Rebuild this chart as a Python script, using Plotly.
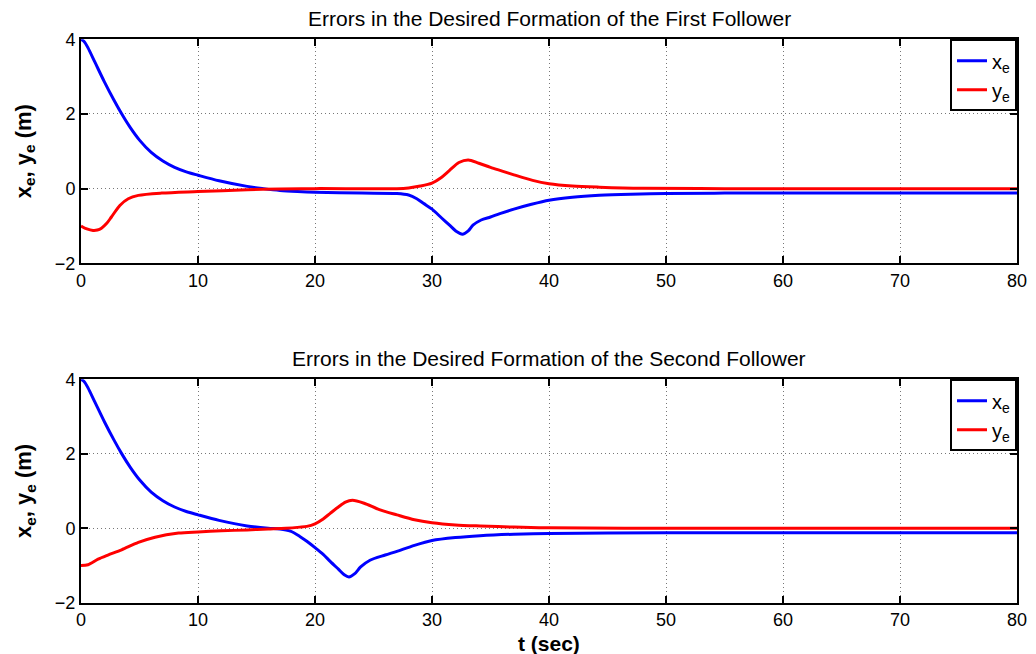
import plotly.graph_objects as go

# ---------------- data ----------------
t_x1 = [0, 0.3, 0.6, 1.2, 2.0, 2.8, 3.5, 4.2, 5.0, 6.0, 7.0, 8.0, 9.0, 10, 11.8, 14.2, 15.6, 17,
        18.5, 20, 24, 27, 28, 28.7, 29.3, 30, 30.8, 31.5, 32.1, 32.6, 33.1, 33.5, 34.2, 35, 35.8,
        37, 38.5, 40, 42, 44.3, 47, 50, 55, 80]
xe1 = [4.0, 3.93, 3.77, 3.38, 2.86, 2.38, 1.99, 1.64, 1.30, 0.97, 0.74, 0.57, 0.45, 0.36, 0.21,
       0.06, 0.0, -0.05, -0.08, -0.10, -0.12, -0.13,
       -0.17, -0.27, -0.4, -0.55, -0.78, -0.98, -1.15, -1.22, -1.13, -0.98, -0.84, -0.76, -0.67,
       -0.55, -0.42, -0.31, -0.23, -0.18, -0.15, -0.13, -0.12, -0.12]

t_y1 = [0, 0.5, 1.03, 1.4, 1.75, 2.2, 2.6, 3.32, 4.04, 4.9, 6.9, 10, 14.2, 17, 20, 27, 28, 29, 30,
        30.8, 31.5, 32.3, 33.1, 34, 35, 36, 37, 38.6, 40, 42, 44.3, 48, 55, 80]
ye1 = [-1.0, -1.08, -1.12, -1.11, -1.06, -0.93, -0.76, -0.45, -0.27, -0.18, -0.12, -0.08, -0.03,
       -0.01, 0.0, 0.0, 0.02, 0.07, 0.15, 0.3, 0.49, 0.7, 0.77, 0.68, 0.57, 0.47, 0.37, 0.22,
       0.13, 0.07, 0.04, 0.01, 0.0, 0.0]

t_x2 = [0, 0.3, 0.6, 1.2, 2.0, 2.8, 3.5, 4.2, 5.0, 6.0, 7.0, 8.0, 9.0, 10, 11.8, 14.2, 16, 17,
        17.9, 18.7, 19.3, 20, 20.7, 21.3, 22, 22.5, 22.9, 23.4, 23.9, 24.7, 26, 27, 28.5, 30, 32,
        34.1, 37, 40, 45, 50, 80]
xe2 = [4.0, 3.93, 3.77, 3.38, 2.86, 2.38, 1.99, 1.64, 1.30, 0.97, 0.74, 0.57, 0.45, 0.36, 0.21,
       0.06, 0.0, -0.02, -0.08, -0.22, -0.35, -0.52, -0.7, -0.89, -1.1, -1.25, -1.31, -1.22,
       -1.04, -0.86, -0.72, -0.62, -0.46, -0.33, -0.25, -0.2, -0.16, -0.14, -0.13, -0.12, -0.12]

t_y2 = [0, 0.6, 1.46, 2.3, 3.47, 4.9, 6.33, 8.34, 10, 12, 14.2, 16, 17.5, 18.7, 19.3, 20, 20.7,
        21.3, 22, 22.6, 23.2, 24.2, 25.5, 27, 28.5, 30, 32, 34.1, 37, 40, 50, 80]
ye2 = [-1.0, -0.98, -0.83, -0.72, -0.58, -0.38, -0.24, -0.13, -0.10, -0.07, -0.045, -0.02, 0.0,
       0.03, 0.05, 0.12, 0.25, 0.4, 0.57, 0.7, 0.75, 0.67, 0.5, 0.36, 0.23, 0.15, 0.09, 0.06,
       0.03, 0.01, 0.0, 0.0]

titles = ["Errors in the Desired Formation of the First Follower",
          "Errors in the Desired Formation of the Second Follower"]
x_ticks = [0, 10, 20, 30, 40, 50, 60, 70, 80]
y_ticks = [-2, 0, 2, 4]

# ---------------- figure ----------------
W, H = 1036, 654
FONT = "Liberation Sans, Arial, Helvetica, sans-serif"
xdom = [81 / W, 1017 / W]
ydoms = [[1 - 263.3 / H, 1 - 39.3 / H], [1 - 602.7 / H, 1 - 379.3 / H]]

fig = go.Figure()
series = [(t_x1, xe1, t_y1, ye1), (t_x2, xe2, t_y2, ye2)]
for i, (tx, xv, ty, yv) in enumerate(series):
    ax = "" if i == 0 else "2"
    leg = "legend" if i == 0 else "legend2"
    fig.add_trace(go.Scatter(x=tx, y=xv, mode="lines", name="x<sub>e</sub>",
                             line=dict(color="#0000FF", width=3, shape="spline", smoothing=0.8),
                             xaxis="x" + ax, yaxis="y" + ax, legend=leg))
    fig.add_trace(go.Scatter(x=ty, y=yv, mode="lines", name="y<sub>e</sub>",
                             line=dict(color="#FF0000", width=3, shape="spline", smoothing=0.8),
                             xaxis="x" + ax, yaxis="y" + ax, legend=leg))

axis_common = dict(showline=True, linecolor="black", linewidth=2, mirror="allticks",
                   ticks="inside", ticklen=7, tickwidth=1.5, tickcolor="black",
                   showgrid=True, gridcolor="#777777", gridwidth=1, griddash="1px,3px",
                   zeroline=False, tickfont=dict(family=FONT, size=18, color="black"))

layout = dict(width=W, height=H, autosize=False, plot_bgcolor="white", paper_bgcolor="white",
              margin=dict(l=0, r=0, t=0, b=0), showlegend=True)
for i in range(2):
    ax = "" if i == 0 else "2"
    layout["xaxis" + ax] = dict(axis_common, domain=xdom, range=[0, 80], tickvals=x_ticks,
                                anchor="y" + ax, automargin=False)
    layout["yaxis" + ax] = dict(axis_common, domain=ydoms[i], range=[-2, 4], tickvals=y_ticks,
                                anchor="x" + ax, automargin=False)
    leg = "legend" if i == 0 else "legend2"
    layout[leg] = dict(x=xdom[1], xanchor="right", y=ydoms[i][1], yanchor="top",
                       bgcolor="white", bordercolor="black", borderwidth=2,
                       font=dict(family=FONT, size=20, color="black"),
                       tracegroupgap=0, traceorder="normal")
fig.update_layout(**layout)

cx = (xdom[0] + xdom[1]) / 2
annotations = []
for i in range(2):
    annotations.append(dict(text=titles[i], x=cx, y=ydoms[i][1] + 21 / H, xref="paper", yref="paper",
                            xanchor="center", yanchor="middle", showarrow=False,
                            font=dict(family=FONT, size=21, color="black")))
    annotations.append(dict(text="<b>x<sub>e</sub>, y<sub>e</sub> (m)</b>", x=25 / W,
                            y=(ydoms[i][0] + ydoms[i][1]) / 2, xref="paper", yref="paper",
                            xanchor="center", yanchor="middle", textangle=-90, showarrow=False,
                            font=dict(family=FONT, size=22, color="black")))
annotations.append(dict(text="<b>t (sec)</b>", x=cx, y=1 - 643 / H, xref="paper", yref="paper",
                        xanchor="center", yanchor="middle", showarrow=False,
                        font=dict(family=FONT, size=21, color="black")))
fig.update_layout(annotations=annotations)

fig.write_html("out.html")
